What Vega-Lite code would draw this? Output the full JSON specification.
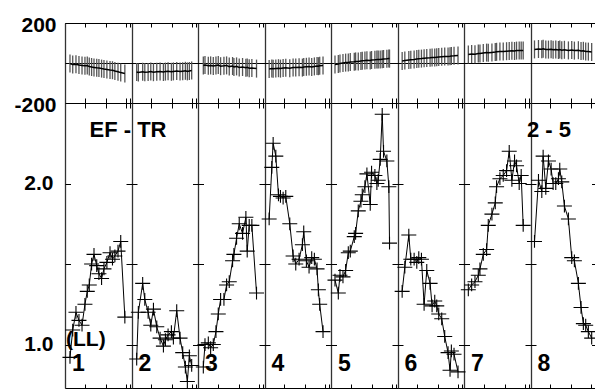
{
  "$schema": "https://vega.github.io/schema/vega-lite/v6.json",
  "autosize": {"type": "pad"},
  "padding": {"left": 13, "top": 13, "right": 0, "bottom": 0},
  "background": "white",
  "spacing": 0,
  "bounds": "flush",
  "config": {
    "view": {"stroke": "black", "strokeWidth": 1},
    "font": "Liberation Sans",
    "axis": {"labelFont": "Liberation Sans", "labelFontWeight": "bold", "labelColor": "black"}
  },
  "datasets": {
    "pts": [
      {"seg": 1, "x": 0.075, "f": 0.92, "r": -3},
      {"seg": 1, "x": 0.116, "f": 1.09, "r": -8},
      {"seg": 1, "x": 0.165, "f": 1.20, "r": -6},
      {"seg": 1, "x": 0.21, "f": 1.15, "r": -10},
      {"seg": 1, "x": 0.256, "f": 1.12, "r": -12},
      {"seg": 1, "x": 0.30, "f": 1.25, "r": -14},
      {"seg": 1, "x": 0.335, "f": 1.33, "r": -13},
      {"seg": 1, "x": 0.365, "f": 1.37, "r": -18},
      {"seg": 1, "x": 0.40, "f": 1.50, "r": -20},
      {"seg": 1, "x": 0.436, "f": 1.56, "r": -22},
      {"seg": 1, "x": 0.477, "f": 1.49, "r": -24},
      {"seg": 1, "x": 0.51, "f": 1.44, "r": -25},
      {"seg": 1, "x": 0.55, "f": 1.41, "r": -28},
      {"seg": 1, "x": 0.586, "f": 1.47, "r": -30},
      {"seg": 1, "x": 0.63, "f": 1.51, "r": -32},
      {"seg": 1, "x": 0.677, "f": 1.57, "r": -35},
      {"seg": 1, "x": 0.714, "f": 1.53, "r": -36},
      {"seg": 1, "x": 0.75, "f": 1.55, "r": -40},
      {"seg": 1, "x": 0.797, "f": 1.58, "r": -44},
      {"seg": 1, "x": 0.838, "f": 1.64, "r": -48},
      {"seg": 1, "x": 0.90, "f": 1.17, "r": -52},
      {"seg": 2, "x": 1.078, "f": 0.91, "r": -45},
      {"seg": 2, "x": 1.103, "f": 1.20, "r": -47},
      {"seg": 2, "x": 1.168, "f": 1.38, "r": -44},
      {"seg": 2, "x": 1.20, "f": 1.28, "r": -46},
      {"seg": 2, "x": 1.25, "f": 1.20, "r": -45},
      {"seg": 2, "x": 1.29, "f": 1.12, "r": -43},
      {"seg": 2, "x": 1.33, "f": 1.22, "r": -46},
      {"seg": 2, "x": 1.38, "f": 1.11, "r": -44},
      {"seg": 2, "x": 1.43, "f": 1.04, "r": -42},
      {"seg": 2, "x": 1.48, "f": 0.99, "r": -45},
      {"seg": 2, "x": 1.51, "f": 1.03, "r": -43},
      {"seg": 2, "x": 1.55, "f": 1.06, "r": -41},
      {"seg": 2, "x": 1.60, "f": 1.08, "r": -44},
      {"seg": 2, "x": 1.63, "f": 1.04, "r": -42},
      {"seg": 2, "x": 1.68, "f": 1.21, "r": -40},
      {"seg": 2, "x": 1.73, "f": 1.04, "r": -43},
      {"seg": 2, "x": 1.77, "f": 0.95, "r": -41},
      {"seg": 2, "x": 1.81, "f": 0.86, "r": -39},
      {"seg": 2, "x": 1.84, "f": 0.77, "r": -42},
      {"seg": 2, "x": 1.87, "f": 0.93, "r": -40},
      {"seg": 2, "x": 1.905, "f": 0.87, "r": -38},
      {"seg": 3, "x": 2.08, "f": 0.86, "r": -12},
      {"seg": 3, "x": 2.105, "f": 1.00, "r": -10},
      {"seg": 3, "x": 2.155, "f": 1.01, "r": -14},
      {"seg": 3, "x": 2.19, "f": 0.98, "r": -12},
      {"seg": 3, "x": 2.23, "f": 1.00, "r": -15},
      {"seg": 3, "x": 2.27, "f": 1.08, "r": -13},
      {"seg": 3, "x": 2.305, "f": 1.19, "r": -10},
      {"seg": 3, "x": 2.34, "f": 1.28, "r": -16},
      {"seg": 3, "x": 2.39, "f": 1.28, "r": -14},
      {"seg": 3, "x": 2.43, "f": 1.37, "r": -12},
      {"seg": 3, "x": 2.47, "f": 1.39, "r": -18},
      {"seg": 3, "x": 2.52, "f": 1.52, "r": -15},
      {"seg": 3, "x": 2.54, "f": 1.56, "r": -20},
      {"seg": 3, "x": 2.58, "f": 1.66, "r": -17},
      {"seg": 3, "x": 2.62, "f": 1.75, "r": -22},
      {"seg": 3, "x": 2.67, "f": 1.69, "r": -20},
      {"seg": 3, "x": 2.72, "f": 1.79, "r": -24},
      {"seg": 3, "x": 2.74, "f": 1.58, "r": -22},
      {"seg": 3, "x": 2.77, "f": 1.74, "r": -26},
      {"seg": 3, "x": 2.81, "f": 1.74, "r": -25},
      {"seg": 3, "x": 2.88, "f": 1.32, "r": -28},
      {"seg": 4, "x": 3.07, "f": 1.78, "r": -30},
      {"seg": 4, "x": 3.11, "f": 2.10, "r": -28},
      {"seg": 4, "x": 3.13, "f": 2.25, "r": -29},
      {"seg": 4, "x": 3.17, "f": 2.17, "r": -27},
      {"seg": 4, "x": 3.21, "f": 1.93, "r": -26},
      {"seg": 4, "x": 3.24, "f": 1.92, "r": -28},
      {"seg": 4, "x": 3.28, "f": 1.91, "r": -25},
      {"seg": 4, "x": 3.32, "f": 1.92, "r": -24},
      {"seg": 4, "x": 3.38, "f": 1.75, "r": -26},
      {"seg": 4, "x": 3.43, "f": 1.55, "r": -23},
      {"seg": 4, "x": 3.47, "f": 1.50, "r": -22},
      {"seg": 4, "x": 3.52, "f": 1.53, "r": -21},
      {"seg": 4, "x": 3.57, "f": 1.62, "r": -23},
      {"seg": 4, "x": 3.59, "f": 1.70, "r": -20},
      {"seg": 4, "x": 3.63, "f": 1.52, "r": -19},
      {"seg": 4, "x": 3.67, "f": 1.48, "r": -18},
      {"seg": 4, "x": 3.71, "f": 1.54, "r": -20},
      {"seg": 4, "x": 3.75, "f": 1.53, "r": -17},
      {"seg": 4, "x": 3.79, "f": 1.47, "r": -15},
      {"seg": 4, "x": 3.81, "f": 1.34, "r": -16},
      {"seg": 4, "x": 3.83, "f": 1.25, "r": -14},
      {"seg": 4, "x": 3.88, "f": 1.08, "r": -13},
      {"seg": 5, "x": 4.06, "f": 1.40, "r": -8},
      {"seg": 5, "x": 4.11, "f": 1.32, "r": -5},
      {"seg": 5, "x": 4.135, "f": 1.43, "r": -2},
      {"seg": 5, "x": 4.18, "f": 1.42, "r": 0},
      {"seg": 5, "x": 4.22, "f": 1.46, "r": 2},
      {"seg": 5, "x": 4.26, "f": 1.57, "r": 3},
      {"seg": 5, "x": 4.29, "f": 1.58, "r": 5},
      {"seg": 5, "x": 4.35, "f": 1.67, "r": 6},
      {"seg": 5, "x": 4.37, "f": 1.69, "r": 8},
      {"seg": 5, "x": 4.41, "f": 1.83, "r": 7},
      {"seg": 5, "x": 4.45, "f": 1.89, "r": 10},
      {"seg": 5, "x": 4.47, "f": 1.93, "r": 11},
      {"seg": 5, "x": 4.51, "f": 1.98, "r": 12},
      {"seg": 5, "x": 4.54, "f": 2.06, "r": 14},
      {"seg": 5, "x": 4.59, "f": 1.87, "r": 13},
      {"seg": 5, "x": 4.61, "f": 2.07, "r": 15},
      {"seg": 5, "x": 4.66, "f": 2.05, "r": 16},
      {"seg": 5, "x": 4.69, "f": 2.00, "r": 17},
      {"seg": 5, "x": 4.71, "f": 2.02, "r": 18},
      {"seg": 5, "x": 4.74, "f": 2.15, "r": 17},
      {"seg": 5, "x": 4.77, "f": 2.43, "r": 19},
      {"seg": 5, "x": 4.79, "f": 2.20, "r": 20},
      {"seg": 5, "x": 4.84, "f": 2.14, "r": 21},
      {"seg": 5, "x": 4.87, "f": 1.98, "r": 22},
      {"seg": 5, "x": 4.88, "f": 1.63, "r": 22},
      {"seg": 6, "x": 5.07, "f": 1.33, "r": 10},
      {"seg": 6, "x": 5.11, "f": 1.48, "r": 12},
      {"seg": 6, "x": 5.17, "f": 1.68, "r": 15},
      {"seg": 6, "x": 5.20, "f": 1.53, "r": 16},
      {"seg": 6, "x": 5.25, "f": 1.53, "r": 18},
      {"seg": 6, "x": 5.29, "f": 1.51, "r": 20},
      {"seg": 6, "x": 5.32, "f": 1.54, "r": 21},
      {"seg": 6, "x": 5.36, "f": 1.53, "r": 22},
      {"seg": 6, "x": 5.40, "f": 1.25, "r": 24},
      {"seg": 6, "x": 5.44, "f": 1.46, "r": 25},
      {"seg": 6, "x": 5.49, "f": 1.38, "r": 26},
      {"seg": 6, "x": 5.52, "f": 1.24, "r": 27},
      {"seg": 6, "x": 5.56, "f": 1.27, "r": 28},
      {"seg": 6, "x": 5.59, "f": 1.24, "r": 29},
      {"seg": 6, "x": 5.62, "f": 1.19, "r": 30},
      {"seg": 6, "x": 5.665, "f": 1.16, "r": 31},
      {"seg": 6, "x": 5.71, "f": 1.05, "r": 32},
      {"seg": 6, "x": 5.76, "f": 0.95, "r": 33},
      {"seg": 6, "x": 5.79, "f": 0.84, "r": 34},
      {"seg": 6, "x": 5.81, "f": 0.96, "r": 35},
      {"seg": 6, "x": 5.85, "f": 0.94, "r": 36},
      {"seg": 6, "x": 5.91, "f": 0.83, "r": 38},
      {"seg": 7, "x": 6.065, "f": 1.34, "r": 42},
      {"seg": 7, "x": 6.115, "f": 1.37, "r": 45},
      {"seg": 7, "x": 6.165, "f": 1.39, "r": 44},
      {"seg": 7, "x": 6.215, "f": 1.43, "r": 47},
      {"seg": 7, "x": 6.24, "f": 1.47, "r": 48},
      {"seg": 7, "x": 6.29, "f": 1.56, "r": 50},
      {"seg": 7, "x": 6.34, "f": 1.59, "r": 52},
      {"seg": 7, "x": 6.365, "f": 1.74, "r": 51},
      {"seg": 7, "x": 6.42, "f": 1.81, "r": 53},
      {"seg": 7, "x": 6.47, "f": 1.88, "r": 55},
      {"seg": 7, "x": 6.49, "f": 1.98, "r": 56},
      {"seg": 7, "x": 6.54, "f": 2.03, "r": 57},
      {"seg": 7, "x": 6.59, "f": 2.05, "r": 58},
      {"seg": 7, "x": 6.64, "f": 2.08, "r": 59},
      {"seg": 7, "x": 6.68, "f": 2.20, "r": 60},
      {"seg": 7, "x": 6.72, "f": 2.02, "r": 61},
      {"seg": 7, "x": 6.76, "f": 2.14, "r": 60},
      {"seg": 7, "x": 6.79, "f": 2.11, "r": 62},
      {"seg": 7, "x": 6.83, "f": 2.00, "r": 63},
      {"seg": 7, "x": 6.86, "f": 2.05, "r": 62},
      {"seg": 7, "x": 6.89, "f": 1.74, "r": 63},
      {"seg": 8, "x": 7.06, "f": 1.64, "r": 68},
      {"seg": 8, "x": 7.12, "f": 2.02, "r": 70},
      {"seg": 8, "x": 7.17, "f": 1.95, "r": 69},
      {"seg": 8, "x": 7.19, "f": 2.17, "r": 71},
      {"seg": 8, "x": 7.23, "f": 1.97, "r": 68},
      {"seg": 8, "x": 7.27, "f": 2.14, "r": 67},
      {"seg": 8, "x": 7.31, "f": 2.09, "r": 69},
      {"seg": 8, "x": 7.34, "f": 2.00, "r": 66},
      {"seg": 8, "x": 7.38, "f": 2.00, "r": 68},
      {"seg": 8, "x": 7.42, "f": 2.03, "r": 65},
      {"seg": 8, "x": 7.44, "f": 2.09, "r": 67},
      {"seg": 8, "x": 7.47, "f": 2.01, "r": 64},
      {"seg": 8, "x": 7.51, "f": 1.86, "r": 66},
      {"seg": 8, "x": 7.57, "f": 1.78, "r": 63},
      {"seg": 8, "x": 7.62, "f": 1.54, "r": 65},
      {"seg": 8, "x": 7.66, "f": 1.52, "r": 62},
      {"seg": 8, "x": 7.72, "f": 1.38, "r": 64},
      {"seg": 8, "x": 7.76, "f": 1.23, "r": 60},
      {"seg": 8, "x": 7.795, "f": 1.13, "r": 61},
      {"seg": 8, "x": 7.83, "f": 1.12, "r": 58},
      {"seg": 8, "x": 7.87, "f": 1.08, "r": 57},
      {"seg": 8, "x": 7.92, "f": 1.04, "r": 55}
    ]
  },
  "vconcat": [
    {
      "width": 532,
      "height": 80,
      "data": {"name": "pts"},
      "encoding": {
        "y": {
          "field": "r", "type": "quantitative",
          "scale": {"domain": [-200, 200], "nice": false, "zero": false},
          "axis": {
            "title": null, "values": [-200, 0, 200],
            "labelExpr": "datum.value == 0 ? '' : (datum.value < 0 ? '-200' : '200')",
            "labelFontSize": 21, "labelPadding": 9, "labelOffset": 2,
            "ticks": false, "domain": false,
            "grid": true, "gridColor": "black", "gridWidth": 1
          }
        }
      },
      "layer": [
        {
          "mark": {"type": "point", "shape": "M0,-1L0,1", "size": 324, "filled": false, "stroke": "#555555", "strokeWidth": 1.3, "opacity": 1},
          "encoding": {
            "x": {
              "field": "x", "type": "quantitative",
              "scale": {"domain": [0, 8], "nice": false, "zero": false},
              "axis": {
                "orient": "top", "title": null, "labels": false, "domain": false,
                "values": [0, 0.3, 0.61, 0.91, 0.975, 1, 1.3, 1.61, 1.91, 1.975, 2, 2.3, 2.61, 2.91, 2.975, 3, 3.3, 3.61, 3.91, 3.975, 4, 4.3, 4.61, 4.91, 4.975, 5, 5.3, 5.61, 5.91, 5.975, 6, 6.3, 6.61, 6.91, 6.975, 7, 7.3, 7.61, 7.91, 7.975, 8],
                "tickSize": -4, "tickColor": "black",
                "tickOpacity": {"condition": {"test": "datum.value % 1 === 0", "value": 0}, "value": 1},
                "grid": true, "gridColor": "#333333", "gridWidth": 1.3,
                "gridOpacity": {"condition": {"test": "datum.value % 1 === 0", "value": 1}, "value": 0}
              }
            }
          }
        },
        {
          "mark": {"type": "line", "color": "black", "strokeWidth": 1.5},
          "encoding": {
            "x": {
              "field": "x", "type": "quantitative",
              "scale": {"domain": [0, 8], "nice": false, "zero": false},
              "axis": {
                "orient": "bottom", "title": null, "labels": false, "domain": false, "grid": false,
                "values": [0.3, 0.61, 0.91, 0.975, 1.3, 1.61, 1.91, 1.975, 2.3, 2.61, 2.91, 2.975, 3.3, 3.61, 3.91, 3.975, 4.3, 4.61, 4.91, 4.975, 5.3, 5.61, 5.91, 5.975, 6.3, 6.61, 6.91, 6.975, 7.3, 7.61, 7.91, 7.975],
                "tickSize": 5, "tickColor": "black"
              }
            },
            "detail": {"field": "seg", "type": "nominal"}
          }
        }
      ],
      "resolve": {"axis": {"x": "independent"}}
    },
    {
      "width": 532,
      "height": 285,
      "layer": [
        {
          "data": {"name": "pts"},
          "mark": {"type": "line", "color": "black", "strokeWidth": 1},
          "encoding": {
            "x": {
              "field": "x", "type": "quantitative",
              "scale": {"domain": [0, 8], "nice": false, "zero": false},
              "axis": {
                "orient": "top", "title": null, "labels": false, "domain": false,
                "values": [0, 0.3, 0.61, 0.91, 0.975, 1, 1.3, 1.61, 1.91, 1.975, 2, 2.3, 2.61, 2.91, 2.975, 3, 3.3, 3.61, 3.91, 3.975, 4, 4.3, 4.61, 4.91, 4.975, 5, 5.3, 5.61, 5.91, 5.975, 6, 6.3, 6.61, 6.91, 6.975, 7, 7.3, 7.61, 7.91, 7.975, 8],
                "tickSize": 5, "tickColor": "black",
                "tickOpacity": {"condition": {"test": "datum.value % 1 === 0", "value": 0}, "value": 1},
                "grid": true, "gridColor": "#333333", "gridWidth": 1.3,
                "gridOpacity": {"condition": {"test": "datum.value % 1 === 0", "value": 1}, "value": 0}
              }
            },
            "y": {
              "field": "f", "type": "quantitative",
              "scale": {"domain": [0.73, 2.5], "nice": false, "zero": false},
              "axis": {
                "title": null, "values": [1.0, 1.5, 2.0],
                "labelExpr": "datum.value == 1.5 ? '' : format(datum.value, '.1f')",
                "labelFontSize": 21, "labelPadding": 12,
                "ticks": false, "domain": false,
                "grid": true, "gridColor": "black", "gridWidth": 1,
                "gridDash": [11, 55.5], "gridDashOffset": 5.5
              }
            },
            "detail": {"field": "seg", "type": "nominal"}
          }
        },
        {
          "data": {"name": "pts"},
          "mark": {"type": "point", "shape": "M-1,0L1,0M0,-0.85L0,0.85", "size": 225, "filled": false, "stroke": "black", "strokeWidth": 1.1, "opacity": 1},
          "encoding": {
            "x": {
              "field": "x", "type": "quantitative",
              "scale": {"domain": [0, 8], "nice": false, "zero": false},
              "axis": {
                "orient": "bottom", "title": null, "labels": false, "domain": false, "grid": false,
                "values": [0.3, 0.61, 0.91, 0.975, 1.3, 1.61, 1.91, 1.975, 2.3, 2.61, 2.91, 2.975, 3.3, 3.61, 3.91, 3.975, 4.3, 4.61, 4.91, 4.975, 5.3, 5.61, 5.91, 5.975, 6.3, 6.61, 6.91, 6.975, 7.3, 7.61, 7.91, 7.975],
                "tickSize": -4, "tickColor": "black"
              }
            },
            "y": {"field": "f", "type": "quantitative"}
          }
        },
        {
          "data": {"values": [
            {"start": 0, "lab": "1"},
            {"start": 1, "lab": "2"},
            {"start": 2, "lab": "3"},
            {"start": 3, "lab": "4"},
            {"start": 4, "lab": "5"},
            {"start": 5, "lab": "6"},
            {"start": 6, "lab": "7"},
            {"start": 7, "lab": "8"}
          ]},
          "mark": {"type": "text", "align": "left", "baseline": "alphabetic", "dx": 7, "fontSize": 23, "fontWeight": "bold", "font": "Liberation Sans", "color": "black"},
          "encoding": {
            "x": {"field": "start", "type": "quantitative", "axis": null},
            "y": {"datum": 0.835, "type": "quantitative"},
            "text": {"field": "lab", "type": "nominal"}
          }
        },
        {
          "data": {"values": [{"note": "EF - TR"}]},
          "mark": {"type": "text", "align": "center", "baseline": "alphabetic", "dx": -3.5, "fontSize": 22, "fontWeight": "bold", "font": "Liberation Sans", "color": "black"},
          "encoding": {
            "x": {"datum": 1, "type": "quantitative", "axis": null},
            "y": {"datum": 2.287, "type": "quantitative"},
            "text": {"field": "note", "type": "nominal"}
          }
        },
        {
          "data": {"values": [{"note": "2 - 5"}]},
          "mark": {"type": "text", "align": "center", "baseline": "alphabetic", "dx": 18.5, "fontSize": 22, "fontWeight": "bold", "font": "Liberation Sans", "color": "black"},
          "encoding": {
            "x": {"datum": 7, "type": "quantitative", "axis": null},
            "y": {"datum": 2.287, "type": "quantitative"},
            "text": {"field": "note", "type": "nominal"}
          }
        },
        {
          "data": {"values": [{"note": "(LL)"}]},
          "mark": {"type": "text", "align": "left", "baseline": "alphabetic", "dx": 1, "fontSize": 21, "fontWeight": "bold", "font": "Liberation Sans", "color": "black"},
          "encoding": {
            "x": {"datum": 0, "type": "quantitative", "axis": null},
            "y": {"datum": 0.99, "type": "quantitative"},
            "text": {"field": "note", "type": "nominal"}
          }
        }
      ],
      "resolve": {"axis": {"x": "independent"}}
    }
  ]
}
